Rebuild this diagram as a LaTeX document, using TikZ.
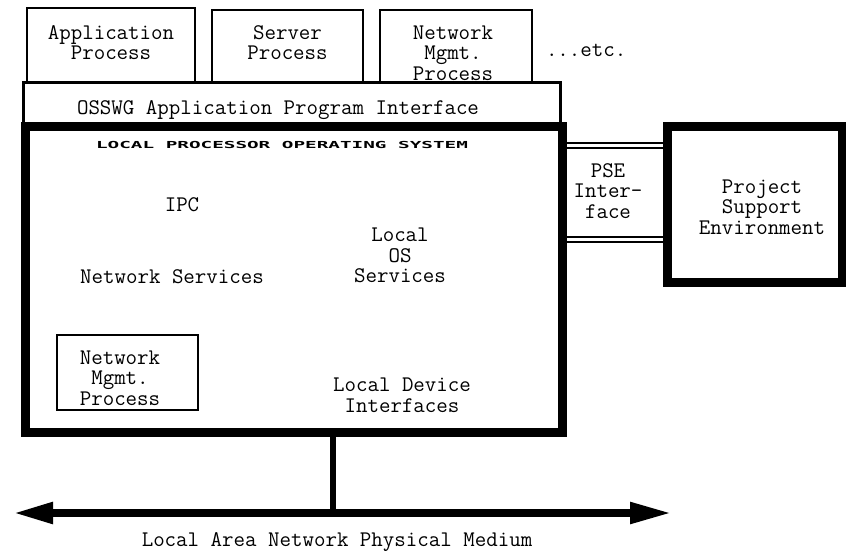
\documentclass[tikz,border=0pt]{standalone}
\usepackage{fontspec}
\newfontfamily\heavymono{DejaVu Sans Mono}
\usetikzlibrary{arrows.meta}
\begin{document}
\begin{tikzpicture}[x=1pt,y=-1pt,
  every node/.style={inner sep=0pt, outer sep=0pt},
  txt/.style={font=\ttfamily\fontsize{22.3}{20.5}\selectfont, align=center},
  heading/.style={font=\heavymono\bfseries\fontsize{19.3}{20}\selectfont},
  thinbox/.style={draw, line width=2.5pt, fill=white},
  apiband/.style={draw, line width=3pt, fill=white},
  heavybox/.style={draw, line width=9pt},
  pseline/.style={double, double distance=3pt, line width=2pt},
  bus/.style={line width=6pt},
  lan/.style={line width=8pt, {Triangle[length=40pt,width=20pt]}-{Triangle[length=42pt,width=20pt]}}
]
\useasboundingbox (0,0) rectangle (846,550);

% application-level processes
\node[thinbox, minimum width=168pt, minimum height=74pt] (app) at (111,45) {};
\node[thinbox, minimum width=151pt, minimum height=72pt] (srv) at (287.5,46) {};
\node[thinbox, minimum width=152pt, minimum height=72pt] (nmp) at (456,46) {};
\node[txt] (appT) at (111,42.5) {Application\\Process};
\node[txt] (srvT) at (287.5,42.5) {Server\\Process};
\node[txt] (nmpT) at (453,53) {Network\\Mgmt.\\Process};
\node[txt, anchor=west] (etc) at (546,50) {...etc.};

% API layer
\node[apiband, minimum width=537pt, minimum height=44pt] (api) at (291.5,104) {};
\node[txt] (apiT) at (278,110) {OSSWG Application Program Interface};

% PSE interface (double rules top and bottom)
\node[minimum width=105pt, minimum height=94pt] (pse) at (614.5,192) {};
\draw[pseline] (pse.north west) -- (pse.north east);
\draw[pseline] (pse.south west) -- (pse.south east);
\node[txt] (pseT) at (608,191) {PSE\\Inter-\\face};

% local processor operating system
\node[heavybox, minimum width=537pt, minimum height=306pt] (los) at (293.5,279) {};
\node[heading] (losT) at (282,145)
  {\scalebox{1}[0.5]{LOCAL PROCESSOR OPERATING SYSTEM}};
\node[txt] (ipc) at (182,205) {IPC};
\node[txt] (locos) at (400,255.5) {Local\\OS\\Services};
\node[txt] (netsvc) at (172,277) {Network Services};
\node[txt] (ldev) at (402,395) {Local Device\\Interfaces};

\node[thinbox, minimum width=141pt, minimum height=75pt] (nmi) at (127.5,372.5) {};
\node[txt] (nmiT) at (120,378) {Network\\Mgmt.\\Process};

% project support environment
\node[heavybox, minimum width=175pt, minimum height=156pt] (pjse) at (754.5,204) {};
\node[txt] (pjseT) at (762,207) {Project\\Support\\Environment};

% LAN medium and the tap to it
\coordinate (lanL) at (13,513);
\coordinate (lanR) at (672,513);
\coordinate (tap) at (333,513);
\draw[bus] (los.south -| tap) -- (tap);
\draw[lan] (lanL) -- (lanR);
\node[txt] (lanT) at (337,542) {Local Area Network Physical Medium};
\end{tikzpicture}
\end{document}
